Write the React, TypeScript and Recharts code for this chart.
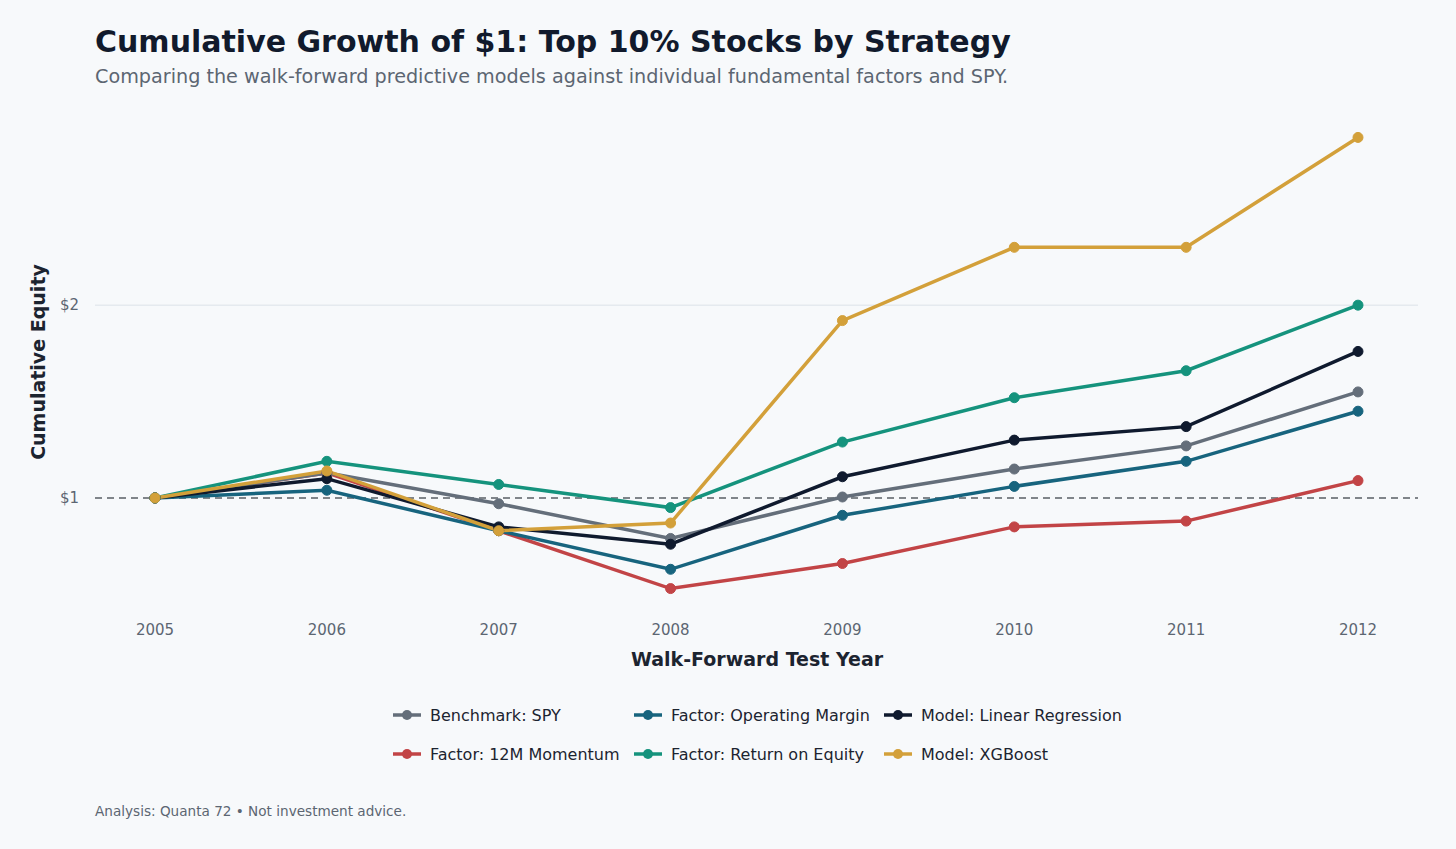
import React from "react";
import { LineChart, Line, XAxis, YAxis, ReferenceLine } from "recharts";

const years = [2005, 2006, 2007, 2008, 2009, 2010, 2011, 2012];
const spy = [1.0, 1.13, 0.97, 0.79, 1.005, 1.15, 1.27, 1.55];
const opMargin = [1.0, 1.04, 0.83, 0.63, 0.91, 1.06, 1.19, 1.45];
const linReg = [1.0, 1.1, 0.85, 0.76, 1.11, 1.3, 1.37, 1.76];
const momentum = [1.0, 1.13, 0.83, 0.53, 0.66, 0.85, 0.88, 1.09];
const roe = [1.0, 1.19, 1.07, 0.95, 1.29, 1.52, 1.66, 2.0];
const xgb = [1.0, 1.14, 0.83, 0.87, 1.92, 2.3, 2.3, 2.87];
const yTicks = [1, 2];

const series = [
  { key: "spy", name: "Benchmark: SPY", color: "#646e7a", vals: spy },
  { key: "op", name: "Factor: Operating Margin", color: "#17647e", vals: opMargin },
  { key: "lr", name: "Model: Linear Regression", color: "#0f1a2e", vals: linReg },
  { key: "mom", name: "Factor: 12M Momentum", color: "#c24446", vals: momentum },
  { key: "roe", name: "Factor: Return on Equity", color: "#15937d", vals: roe },
  { key: "xgb", name: "Model: XGBoost", color: "#d3a03a", vals: xgb },
];
const drawOrder = ["mom", "op", "spy", "lr", "roe", "xgb"];

const data = years.map((y, i) => {
  const row: any = { year: y };
  series.forEach((s) => (row[s.key] = s.vals[i]));
  return row;
});

const font = "'DejaVu Sans', sans-serif";
const legendPos = [
  [392, 715], [633, 715], [883, 715],
  [392, 754], [633, 754], [883, 754],
];

export default function App() {
  return (
    <div style={{ position: "fixed", left: 0, top: 0, width: 1456, height: 849, background: "#f7f9fb", fontFamily: font, overflow: "hidden" }}>
      <div style={{ position: "absolute", left: 95, top: 24, fontSize: 30, fontWeight: "bold", color: "#111a2c", whiteSpace: "nowrap" }}>
        Cumulative Growth of $1: Top 10% Stocks by Strategy
      </div>
      <div style={{ position: "absolute", left: 95, top: 65, fontSize: 19.2, color: "#5c6672", whiteSpace: "nowrap" }}>
        Comparing the walk-forward predictive models against individual fundamental factors and SPY.
      </div>
      <div style={{ position: "absolute", left: 38, top: 362, transform: "translate(-50%,-50%) rotate(-90deg)", fontSize: 19, fontWeight: "bold", color: "#1c2430", whiteSpace: "nowrap" }}>
        Cumulative Equity
      </div>
      <div style={{ position: "absolute", left: 757, top: 659, transform: "translate(-50%,-50%)", fontSize: 19, fontWeight: "bold", color: "#1c2430", whiteSpace: "nowrap" }}>
        Walk-Forward Test Year
      </div>
      <div style={{ position: "absolute", left: 0, top: 0 }}>
        <LineChart width={1456} height={849} data={data} margin={{ top: 122, right: 38, bottom: 215, left: 35 }}>
          <XAxis dataKey="year" type="number" domain={[2005, 2012]} ticks={years} padding={{ left: 60, right: 60 }} height={30}
            axisLine={false} tickLine={false} tickMargin={14} tick={{ fill: "#5c6672", fontSize: 15, fontFamily: font }} />
          <YAxis type="number" domain={[0.45, 2.95]} ticks={yTicks} width={60} axisLine={false} tickLine={false} tickMargin={10}
            tickFormatter={(v) => `$${v}`} tick={{ fill: "#5c6672", fontSize: 15, fontFamily: font }} />
          <ReferenceLine y={2} stroke="#dde2e8" strokeWidth={1} />
          <ReferenceLine y={1} stroke="#5a5f66" strokeDasharray="7 5" strokeWidth={1.5} />
          {drawOrder.map((k) => {
            const s = series.find((x) => x.key === k)!;
            return (
              <Line key={k} dataKey={k} stroke={s.color} strokeWidth={3.5} isAnimationActive={false}
                dot={{ r: 5, fill: s.color, stroke: s.color, strokeWidth: 1 }} activeDot={false} />
            );
          })}
        </LineChart>
      </div>
      {series.map((s, i) => (
        <div key={s.key} style={{ position: "absolute", left: legendPos[i][0], top: legendPos[i][1] - 10, height: 20, display: "flex", alignItems: "center", fontSize: 16, color: "#1c2430", whiteSpace: "nowrap" }}>
          <svg width={30} height={14} style={{ marginRight: 8 }}>
            <line x1={1} y1={7} x2={29} y2={7} stroke={s.color} strokeWidth={3.5} />
            <circle cx={15} cy={7} r={5} fill={s.color} />
          </svg>
          {s.name}
        </div>
      ))}
      <div style={{ position: "absolute", left: 95, top: 803, fontSize: 13.6, color: "#5c6672", whiteSpace: "nowrap" }}>
        Analysis: Quanta 72 • Not investment advice.
      </div>
    </div>
  );
}
